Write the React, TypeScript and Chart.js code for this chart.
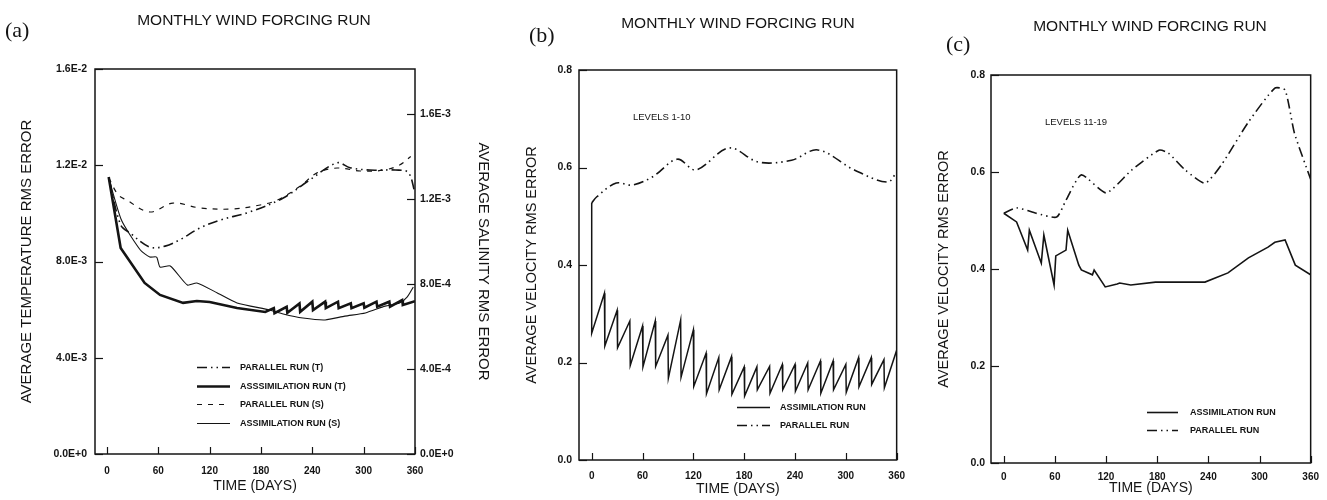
import React, { useEffect, useRef } from "react";
import { Chart, registerables } from "chart.js";

Chart.register(...registerables);

const FONT = "'Liberation Sans', Arial, Helvetica, sans-serif";
const INK = "#141414";

// ---------- shared axis ----------
const dayTicks = [0, 60, 120, 180, 240, 300, 360];

// ---------- panel (a): temperature / salinity ----------
const tempTicks = [0, 0.004, 0.008, 0.012, 0.016];
const tempTickLabels = ["0.0E+0", "4.0E-3", "8.0E-3", "1.2E-2", "1.6E-2"];
const salTicks = [0, 0.0004, 0.0008, 0.0012, 0.0016];
const salTickLabels = ["0.0E+0", "4.0E-4", "8.0E-4", "1.2E-3", "1.6E-3"];

const tempParDays = [2, 16, 27, 50, 68, 85, 109, 132, 167, 206, 237, 269, 284, 307, 337, 352, 360];
const tempPar = [0.0115, 0.00952, 0.00918, 0.0086, 0.00864, 0.0089, 0.0094, 0.00972, 0.01006, 0.01064, 0.01139, 0.0121, 0.0119, 0.0118, 0.0118, 0.0117, 0.01085];

const tempAssimDays = [2, 16, 44, 62, 89, 105, 120, 152, 185];
const tempAssim = [0.01151, 0.00856, 0.00711, 0.00661, 0.00628, 0.00636, 0.00632, 0.00607, 0.0059];
const tempCycleDays = [195, 210, 225, 240, 255, 270, 285, 300, 315, 330, 345];
const tempCyclePeaks = [0.00606, 0.00612, 0.00626, 0.00633, 0.00633, 0.00633, 0.00626, 0.00626, 0.00633, 0.00633, 0.0064];
const tempCycleTroughs = [0.00585, 0.00587, 0.00591, 0.00598, 0.00606, 0.00606, 0.00606, 0.00608, 0.00612, 0.00612, 0.00619];
const tempAssimEnd = 0.00635;

const salParDays = [2, 13, 23, 50, 77, 109, 147, 179, 199, 226, 245, 269, 296, 323, 342, 355];
const salPar = [0.0013, 0.00122, 0.001195, 0.001139, 0.001181, 0.001158, 0.001153, 0.001172, 0.001195, 0.001261, 0.001322, 0.001346, 0.001332, 0.001336, 0.00136, 0.0014];

const salAssimDays = [2, 17, 39, 50, 58, 62, 74, 94, 105, 129, 152, 190, 206, 229, 255, 278, 302, 325, 342, 351, 358];
const salAssim = [0.0013, 0.0011, 0.00096, 0.000927, 0.000927, 0.00088, 0.000885, 0.000795, 0.000805, 0.000758, 0.000711, 0.000678, 0.000659, 0.00064, 0.000631, 0.000649, 0.000664, 0.000696, 0.000711, 0.00074, 0.000786];

// ---------- panel (b): velocity levels 1-10 ----------
const velTicks = [0, 0.2, 0.4, 0.6, 0.8];
const velTickLabels = ["0.0", "0.2", "0.4", "0.6", "0.8"];

const bAssimStart = 0.527;
const bCycleDays = [0, 15, 30, 45, 60, 75, 90, 105, 120, 135, 150, 165, 180, 195, 210, 225, 240, 255, 270, 285, 300, 315, 330, 345];
const bCycleTroughs = [0.26, 0.234, 0.23, 0.194, 0.191, 0.192, 0.168, 0.17, 0.151, 0.136, 0.144, 0.135, 0.131, 0.144, 0.137, 0.144, 0.141, 0.144, 0.137, 0.144, 0.139, 0.15, 0.155, 0.148];
const bCyclePeaks = [0.342, 0.307, 0.285, 0.275, 0.285, 0.256, 0.287, 0.267, 0.219, 0.21, 0.212, 0.191, 0.191, 0.192, 0.196, 0.196, 0.199, 0.203, 0.203, 0.196, 0.21, 0.21, 0.206, 0.225];

const bParDays = [0, 6, 29, 48, 72, 101, 123, 162, 197, 236, 267, 310, 349, 360];
const bPar = [0.527, 0.54, 0.568, 0.564, 0.581, 0.617, 0.595, 0.64, 0.611, 0.615, 0.636, 0.595, 0.57, 0.59];

// ---------- panel (c): velocity levels 11-19 ----------
const cAssimDays = [0, 15, 28, 30, 44, 47, 59, 61, 73, 75, 88, 91, 104, 106, 119, 133, 136, 149, 178, 205, 236, 263, 287, 310, 318, 330, 342, 360];
const cAssim = [0.515, 0.497, 0.439, 0.48, 0.412, 0.47, 0.367, 0.427, 0.439, 0.48, 0.408, 0.398, 0.388, 0.398, 0.363, 0.369, 0.371, 0.367, 0.373, 0.373, 0.373, 0.392, 0.423, 0.445, 0.455, 0.46, 0.408, 0.388];

const cParDays = [0, 15, 38, 62, 73, 91, 120, 150, 182, 193, 213, 236, 255, 287, 318, 330, 341, 360];
const cPar = [0.515, 0.526, 0.515, 0.507, 0.542, 0.594, 0.557, 0.604, 0.645, 0.639, 0.604, 0.577, 0.614, 0.703, 0.773, 0.769, 0.68, 0.585];

// ---------- helpers ----------
const pts = (xs: number[], ys: number[]) => xs.map((x, i) => ({ x, y: ys[i] }));

function sawtooth(startX: number | null, startY: number | null, days: number[], troughs: number[], peaks: number[]) {
  const out: { x: number; y: number }[] = [];
  if (startX !== null && startY !== null) out.push({ x: startX, y: startY });
  days.forEach((d, k) => {
    out.push({ x: d + (k === 0 ? 0 : 0.5), y: troughs[k] });
    const next = k + 1 < days.length ? days[k + 1] : 360;
    out.push({ x: next, y: peaks[k] });
  });
  return out;
}

const tempAssimPts = (() => {
  const out = pts(tempAssimDays, tempAssim);
  tempCycleDays.forEach((d, k) => {
    out.push({ x: d, y: tempCyclePeaks[k] });
    out.push({ x: d + 0.8, y: tempCycleTroughs[k] });
  });
  out.push({ x: 360, y: tempAssimEnd });
  return out;
})();

const bAssimPts = sawtooth(0, bAssimStart, bCycleDays, bCycleTroughs, bCyclePeaks);

// ---------- decoration plugin (frame, inner ticks, legend, note) ----------
const decorPlugin = {
  id: "decor",
  afterDraw(chart: any, _args: any, opts: any) {
    const { ctx, chartArea: ca } = chart;
    ctx.save();
    ctx.strokeStyle = INK;
    ctx.fillStyle = INK;
    ctx.setLineDash([]);
    ctx.lineWidth = 1.5;
    ctx.strokeRect(ca.left, ca.top, ca.right - ca.left, ca.bottom - ca.top);
    ctx.lineWidth = 1.2;
    Object.keys(chart.scales).forEach((id) => {
      const s = chart.scales[id];
      s.ticks.forEach((t: any) => {
        const p = Math.round(s.getPixelForValue(t.value)) + 0.5;
        ctx.beginPath();
        if (s.position === "bottom") {
          ctx.moveTo(p, ca.bottom);
          ctx.lineTo(p, ca.bottom - 7);
        } else if (s.position === "left") {
          ctx.moveTo(ca.left, p);
          ctx.lineTo(ca.left + 8, p);
        } else if (s.position === "right") {
          ctx.moveTo(ca.right, p);
          ctx.lineTo(ca.right - 8, p);
        }
        ctx.stroke();
      });
    });
    const L = opts.legend;
    if (L) {
      ctx.font = `bold 9px ${FONT}`;
      ctx.textBaseline = "middle";
      ctx.textAlign = "left";
      chart.data.datasets.forEach((ds: any, i: number) => {
        const y = Math.round(ca.top + L.y + i * L.dy) + 0.5;
        ctx.setLineDash(ds.borderDash || []);
        ctx.lineWidth = ds.borderWidth;
        ctx.beginPath();
        ctx.moveTo(ca.left + L.x, y);
        ctx.lineTo(ca.left + L.x + L.len, y);
        ctx.stroke();
        ctx.setLineDash([]);
        ctx.fillText(ds.label, ca.left + L.x + L.len + L.gap, y);
      });
    }
    if (opts.note) {
      ctx.font = `9.5px ${FONT}`;
      ctx.textBaseline = "middle";
      ctx.textAlign = "left";
      ctx.fillText(opts.note.text, ca.left + opts.note.x, ca.top + opts.note.y);
    }
    ctx.restore();
  },
};

const tickFont = { family: FONT, size: 10.5, weight: "bold" as const };

function xAxis(min: number, height: number, labelPad: number, titlePad: number) {
  return {
    type: "linear" as const,
    position: "bottom" as const,
    min,
    max: 360,
    afterBuildTicks: (s: any) => {
      s.ticks = dayTicks.map((v) => ({ value: v }));
    },
    afterFit: (s: any) => {
      s.height = height;
    },
    ticks: { font: { ...tickFont, size: 10 }, color: INK, padding: labelPad, maxRotation: 0, autoSkip: false, callback: (v: any) => String(v) },
    grid: { display: false, drawTicks: false },
    border: { display: false },
    title: { display: true, text: "TIME (DAYS)", color: INK, font: { family: FONT, size: 14, lineHeight: 1 }, padding: { top: 0, bottom: titlePad } },
  };
}

function yAxis(position: "left" | "right", max: number, ticks: number[], labels: string[], width: number, labelPad: number, title: string, titlePad: number, titleSize: number) {
  return {
    type: "linear" as const,
    position,
    min: 0,
    max,
    afterBuildTicks: (s: any) => {
      s.ticks = ticks.map((v) => ({ value: v }));
    },
    afterFit: (s: any) => {
      s.width = width;
    },
    ticks: { font: tickFont, color: INK, padding: labelPad, autoSkip: false, callback: (_v: any, i: number) => labels[i] },
    grid: { display: false, drawTicks: false },
    border: { display: false },
    title: { display: true, text: title, color: INK, font: { family: FONT, size: titleSize, lineHeight: 1 }, padding: { top: titlePad, bottom: 0 } },
  };
}

const line = (label: string, data: any[], width: number, dash: number[], tension: number, axis = "y") => ({
  label,
  data,
  yAxisID: axis,
  borderColor: INK,
  backgroundColor: INK,
  borderWidth: width,
  borderDash: dash,
  pointRadius: 0,
  tension,
  fill: false,
});

const DASHDOT = [10, 4, 1.5, 4, 1.5, 4];

type Spec = { left: number; width: number; config: any };

const specs: Spec[] = [
  {
    left: 0,
    width: 500,
    config: {
      type: "line",
      data: {
        datasets: [
          line("PARALLEL RUN (T)", pts(tempParDays, tempPar), 1.6, DASHDOT, 0.35),
          line("ASSSIMILATION RUN (T)", tempAssimPts, 2.6, [], 0),
          line("PARALLEL RUN (S)", pts(salParDays, salPar), 1.2, [5, 6], 0.35, "y1"),
          line("ASSIMILATION RUN (S)", pts(salAssimDays, salAssim), 1.1, [], 0.2, "y1"),
        ],
      },
      options: {
        layout: { padding: { top: 69, left: 0, right: 0, bottom: 0 } },
        scales: {
          x: xAxis(-14, 46, 11, 7),
          y: yAxis("left", 0.016, tempTicks, tempTickLabels, 95, 8, "AVERAGE TEMPERATURE RMS ERROR", 19.5, 15),
          y1: yAxis("right", 0.001812, salTicks, salTickLabels, 85, 5, "AVERAGE SALINITY RMS ERROR", 9.5, 15),
        },
        plugins: {
          decor: { legend: { x: 102, y: 298, dy: 18.7, len: 33, gap: 10 } },
        },
      },
    },
  },
  {
    left: 505,
    width: 410,
    config: {
      type: "line",
      data: {
        datasets: [
          line("ASSIMILATION RUN", bAssimPts, 1.5, [], 0),
          line("PARALLEL RUN", pts(bParDays, bPar), 1.6, DASHDOT, 0.35),
        ],
      },
      options: {
        layout: { padding: { top: 70, left: 0, right: 16, bottom: 0 } },
        scales: {
          x: xAxis(-15, 40, 10, 4),
          y: yAxis("left", 0.8, velTicks, velTickLabels, 74, 7, "AVERAGE VELOCITY RMS ERROR", 19.5, 14.5),
        },
        plugins: {
          decor: { legend: { x: 158, y: 337, dy: 18, len: 33, gap: 10 }, note: { text: "LEVELS 1-10", x: 54, y: 47 } },
        },
      },
    },
  },
  {
    left: 925,
    width: 402,
    config: {
      type: "line",
      data: {
        datasets: [
          line("ASSIMILATION RUN", pts(cAssimDays, cAssim), 1.6, [], 0),
          line("PARALLEL RUN", pts(cParDays, cPar), 1.6, DASHDOT, 0.2),
        ],
      },
      options: {
        layout: { padding: { top: 75, left: 0, right: 14, bottom: 0 } },
        scales: {
          x: xAxis(-15, 37, 8, 5),
          y: yAxis("left", 0.8, velTicks, velTickLabels, 66, 6, "AVERAGE VELOCITY RMS ERROR", 11.5, 14.5),
        },
        plugins: {
          decor: { legend: { x: 156, y: 337, dy: 18, len: 31, gap: 12 }, note: { text: "LEVELS 11-19", x: 54, y: 47 } },
        },
      },
    },
  },
];

function Panel({ spec }: { spec: Spec }) {
  const ref = useRef<HTMLCanvasElement>(null);
  useEffect(() => {
    const cfg = spec.config;
    const chart = new Chart(ref.current as HTMLCanvasElement, {
      ...cfg,
      options: {
        ...cfg.options,
        responsive: false,
        maintainAspectRatio: false,
        animation: false,
        devicePixelRatio: 1,
        plugins: { ...cfg.options.plugins, legend: { display: false }, tooltip: { enabled: false }, title: { display: false } },
      },
      plugins: [decorPlugin],
    } as any);
    return () => chart.destroy();
  }, [spec]);
  return (
    <canvas
      ref={ref}
      width={spec.width}
      height={500}
      style={{ position: "absolute", left: spec.left, top: 0, width: spec.width, height: 500, display: "block" }}
    />
  );
}

const titles = [
  { text: "MONTHLY WIND FORCING RUN", cx: 254, cy: 19 },
  { text: "MONTHLY WIND FORCING RUN", cx: 738, cy: 22 },
  { text: "MONTHLY WIND FORCING RUN", cx: 1150, cy: 25 },
];
const panelLabels = [
  { text: "(a)", x: 5, y: 19 },
  { text: "(b)", x: 529, y: 24 },
  { text: "(c)", x: 946, y: 33 },
];

export default function App() {
  return (
    <div style={{ position: "fixed", left: 0, top: 0, width: 1327, height: 500, background: "#fff", overflow: "hidden" }}>
      {specs.map((s, i) => (
        <Panel key={i} spec={s} />
      ))}
      {titles.map((t, i) => (
        <div
          key={"t" + i}
          style={{ position: "absolute", left: t.cx - 200, top: t.cy - 7, width: 400, textAlign: "center", font: `15.5px ${FONT}`, lineHeight: "15px", color: INK, whiteSpace: "nowrap" }}
        >
          {t.text}
        </div>
      ))}
      {panelLabels.map((p, i) => (
        <div
          key={"p" + i}
          style={{ position: "absolute", left: p.x, top: p.y, font: "22px 'Liberation Serif', 'DejaVu Serif', serif", lineHeight: "22px", color: INK }}
        >
          {p.text}
        </div>
      ))}
    </div>
  );
}
